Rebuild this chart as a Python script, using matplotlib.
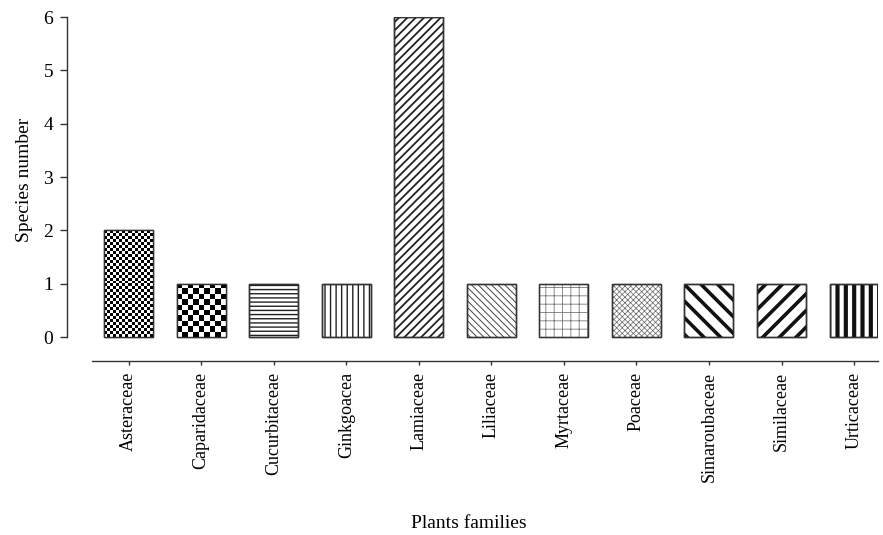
'''
Bar chart of species number per plant family
'''
import numpy as np
import matplotlib
matplotlib.use('Agg')
import matplotlib.pyplot as plt

families = ['Asteraceae', 'Caparidaceae', 'Cucurbitaceae', 'Ginkgoacea', 'Lamiaceae',
            'Liliaceae', 'Myrtaceae', 'Poaceae', 'Simaroubaceae', 'Similaceae', 'Urticaceae']
species = [2, 1, 1, 1, 6, 1, 1, 1, 1, 1, 1]

# fill style per bar: (hatch, hatch colour, hatch linewidth); None = checkerboard
hatches = [None, None, ('----', '#222222', 1.0), ('|||', '#222222', 1.0),
           ('////', '#222222', 1.3), ('\\\\\\\\\\', '#444444', 0.7),
           ('++', '#777777', 0.6), ('xxxxxx', '#666666', 0.5),
           ('\\\\', '#111111', 2.6), ('//', '#111111', 2.6), ('||', '#111111', 3.0)]
checker_px = {0: 3.0, 1: 5.5}   # checker square size in pixels

plt.rcParams['font.family'] = ['Liberation Serif', 'DejaVu Serif']
plt.rcParams['hatch.linewidth'] = 1.0

fig = plt.figure(figsize=(8.83, 5.35), dpi=100)
W, H = 883.0, 535.0
ax = fig.add_axes([67 / W, 1 - 361 / H, (878 - 67) / W, (361 - 17) / H])

x = np.arange(len(families))
width = 0.675
bars = ax.bar(x, species, width=width, color='white', edgecolor='#333333', linewidth=1.0, zorder=2)

xmin, xmax = -0.85, 10.33
ymin, ymax = -0.45, 6.0
ax.set_xlim(xmin, xmax)
ax.set_ylim(ymin, ymax)

pxx = (878 - 67) / (xmax - xmin)
pxy = (361 - 17) / (ymax - ymin)

for i, b in enumerate(bars):
  h = hatches[i]
  if h is None:
    sq = checker_px[i]
    ncol = max(2, int(round(width * pxx / sq)))
    nrow = max(2, int(round(species[i] * pxy / sq)))
    img = (np.indices((nrow, ncol)).sum(axis=0) % 2).astype(float)
    im = ax.imshow(img, cmap='gray', vmin=0, vmax=1, interpolation='nearest', aspect='auto',
                   extent=(x[i] - width / 2, x[i] + width / 2, 0, species[i]), zorder=2.5)
    im.set_clip_path(b)
  else:
    pat, col, lw = h
    b.set_hatch(pat)
    b.set_edgecolor(col)
    try:
      b.set_hatch_linewidth(lw)
    except AttributeError:
      pass
  # outline on top of the fill
  ax.bar(x[i], species[i], width=width, color='none', edgecolor='#333333', linewidth=1.0, zorder=3)

ax.set_xlim(xmin, xmax)
ax.set_ylim(ymin, ymax)

# axes styling
ax.spines['top'].set_visible(False)
ax.spines['right'].set_visible(False)
ax.spines['left'].set_bounds(0, 6)
ax.spines['bottom'].set_bounds(-0.5, xmax)
for s in ['left', 'bottom']:
  ax.spines[s].set_color('#333333')
  ax.spines[s].set_linewidth(1.0)

ax.set_yticks(range(0, 7))
ax.tick_params(axis='y', direction='out', length=5, width=1, color='#333333', labelsize=14, pad=5)
ax.set_xticks(x)
ax.set_xticklabels(families, rotation=90, fontsize=13)
ax.tick_params(axis='x', direction='out', length=3, width=1, color='#333333', pad=5)

ax.set_ylabel('Species number', fontsize=14)
ax.yaxis.set_label_coords(-0.042, 0.526)
ax.set_xlabel('Plants families', fontsize=14)
ax.xaxis.set_label_coords(0.496, -0.448)

plt.savefig('out.png', dpi=100)
